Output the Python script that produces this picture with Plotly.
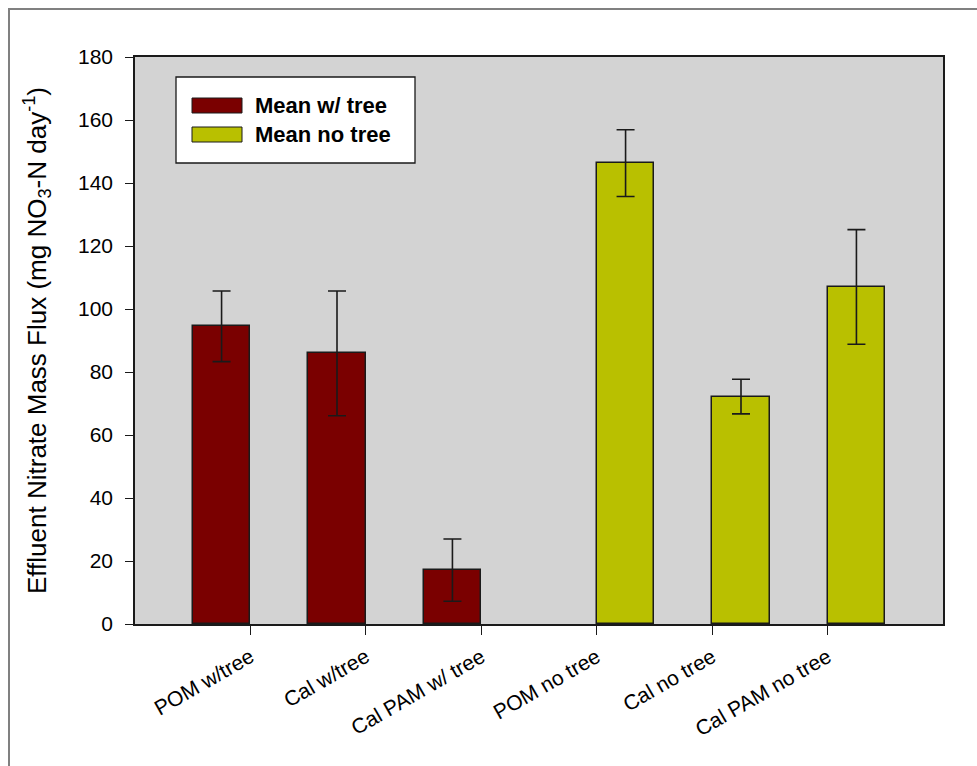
import plotly.graph_objects as go

categories = ["POM w/tree", "Cal w/tree", "Cal PAM w/ tree",
              "POM no tree", "Cal no tree", "Cal PAM no tree"]
mean_tree = [94.5, 85.9, 17.1, None, None, None]
err_tree = [11.2, 19.8, 9.9, None, None, None]
mean_notree = [None, None, None, 146.3, 72.2, 107.0]
err_notree = [None, None, None, 10.6, 5.5, 18.2]
legend_names = ["Mean w/ tree", "Mean no tree"]
colors = ["#7A0000", "#B9C000"]

x = list(range(len(categories)))

fig = go.Figure()
for vals, errs, name, col in [(mean_tree, err_tree, legend_names[0], colors[0]),
                              (mean_notree, err_notree, legend_names[1], colors[1])]:
    fig.add_trace(go.Bar(
        x=x, y=vals, name=name,
        marker=dict(color=col, line=dict(color="#1a1a1a", width=1.5)),
        error_y=dict(type="data", array=errs, visible=True,
                     color="#1a1a1a", thickness=1.6, width=9),
        showlegend=False,
    ))

L, R, T, B = 135, 943, 57, 624
W, H = R - L, B - T
def px(xp):
    return (xp - L) / W
def py(yp):
    return (B - yp) / H

shapes = [
    dict(type="rect", xref="paper", yref="paper",
         x0=px(9), x1=px(1000), y0=py(800), y1=py(9),
         line=dict(color="#808080", width=2), fillcolor="rgba(0,0,0,0)", layer="below"),
    dict(type="rect", xref="paper", yref="paper",
         x0=px(176), x1=px(415), y0=py(163), y1=py(77),
         line=dict(color="#1a1a1a", width=1.3), fillcolor="white"),
]
annotations = []
sw_y = [(98, 113), (127, 142)]
for (y0, y1), name, col in zip(sw_y, legend_names, colors):
    shapes.append(dict(type="rect", xref="paper", yref="paper",
                       x0=px(192), x1=px(242), y0=py(y1), y1=py(y0),
                       line=dict(color="#1a1a1a", width=1), fillcolor=col))
    annotations.append(dict(xref="paper", yref="paper", x=px(253), y=py((y0 + y1) / 2),
                            text="<b>" + name + "</b>", showarrow=False,
                            xanchor="left", yanchor="middle",
                            font=dict(family="Liberation Sans, Arial", size=22, color="black")))

fig.update_layout(
    width=977, height=766,
    margin=dict(l=L, r=977 - R, t=T, b=766 - B),
    paper_bgcolor="white", plot_bgcolor="#D3D3D3",
    barmode="group", bargap=0, bargroupgap=0,
    font=dict(family="Liberation Sans, Arial", size=21, color="black"),
    shapes=shapes, annotations=annotations,
)
fig.update_xaxes(
    range=[-1, 6], tickmode="array", tickvals=x, ticktext=categories,
    tickangle=-30, ticks="outside", ticklen=9, tickcolor="#1a1a1a", tickwidth=1.3,
    showline=True, linecolor="#1a1a1a", linewidth=1.5, mirror=True,
    showgrid=False, zeroline=False, tickfont=dict(size=21), ticklabelstandoff=2,
)
fig.update_yaxes(
    range=[0, 180], tickvals=list(range(0, 181, 20)),
    ticks="outside", ticklen=8, tickcolor="#1a1a1a", tickwidth=1.3,
    showline=True, linecolor="#1a1a1a", linewidth=1.5, mirror=True,
    showgrid=False, zeroline=False, tickfont=dict(size=21), ticklabelstandoff=8,
    title=dict(text="Effluent Nitrate Mass Flux (mg NO<sub>3</sub>-N day<sup>-1</sup>)",
               font=dict(size=26), standoff=24),
)
fig.write_html("out.html")
